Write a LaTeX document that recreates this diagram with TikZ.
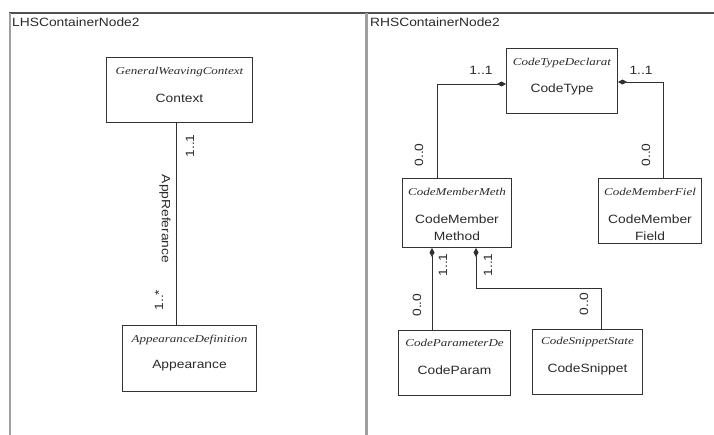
\documentclass[tikz,border=0pt]{standalone}
\usepackage{fontspec}
\setmainfont{Liberation Sans}[FakeStretch=1.15]
\newfontfamily\titlefont{Liberation Serif}[FakeStretch=1.24]
\usetikzlibrary{arrows.meta,calc}
\definecolor{txtc}{HTML}{2A2A2A}
\definecolor{boxc}{HTML}{333333}
\definecolor{linec}{HTML}{303030}
\definecolor{edgec}{HTML}{A0A0A0}
\definecolor{topc}{HTML}{505050}
\tikzset{
  box/.style={draw=boxc, line width=1pt, anchor=north west, inner sep=0pt, fill=white},
  ttl/.style={font=\titlefont\itshape\fontsize{10.5}{12}\selectfont, text=txtc, inner sep=0pt},
  nm/.style={font=\fontsize{12}{17}\selectfont, text=txtc, inner sep=0pt, align=center},
  mult/.style={font=\fontsize{12}{14}\selectfont, text=txtc, inner sep=0pt},
  conn/.style={draw=linec, line width=0.9pt},
  comp/.style={conn, -{Diamond[length=9pt,width=5pt]}},
  cont/.style={font=\fontsize{12}{14}\selectfont, text=txtc, inner sep=0pt, anchor=base west},
}
\begin{document}
\begin{tikzpicture}[x=1pt,y=-1pt]
\useasboundingbox[fill=white] (0,0) rectangle (714,435);
% containers
\draw[topc, line width=1.5pt] (9,13) -- (714,13);
\draw[edgec, line width=2.5pt] (10,13) -- (10,435);
\draw[edgec, line width=3.5pt] (366.5,13) -- (366.5,435);
\node[cont] (lhs) at (12,27) {LHSContainerNode2};
\node[cont] (rhs) at (370,27) {RHSContainerNode2};

% LHS boxes
\node[box, minimum width=146pt, minimum height=65pt] (ctx) at (106,57) {};
\node[ttl] (ctxT) at ($(ctx.north)+(0,15)$) {GeneralWeavingContext};
\node[nm] (ctxN) at ($(ctx.north)+(0,41)$) {Context};

\node[box, minimum width=134pt, minimum height=66pt] (app) at (122,325) {};
\node[ttl] (appT) at ($(app.north)+(0,15)$) {AppearanceDefinition};
\node[nm] (appN) at ($(app.north)+(0,41)$) {Appearance};

\coordinate (lx) at (176,0);
\draw[conn] (ctx.south -| lx) -- (app.north -| lx);
\node[mult, rotate=90] (m1) at (190,146) {1..1};
\node[mult, rotate=-90] (ar) at (165,219) {AppReferance};
\node[mult, rotate=90] (m2) at (159,300) {1..*};

% RHS boxes
\node[box, minimum width=111pt, minimum height=65pt] (ct) at (506,48) {};
\node[ttl] (ctT) at ($(ct.north)+(0,15)$) {CodeTypeDeclarat};
\node[nm] (ctN) at ($(ct.north)+(0,41)$) {CodeType};

\node[box, minimum width=109pt, minimum height=69pt] (cmm) at (402,178) {};
\node[ttl] (cmmT) at ($(cmm.north)+(0,14)$) {CodeMemberMeth};
\node[nm] (cmmN) at ($(cmm.north)+(0,49.5)$) {CodeMember\\Method};

\node[box, minimum width=103pt, minimum height=65pt] (cmf) at (598,178) {};
\node[ttl] (cmfT) at ($(cmf.north)+(0,14)$) {CodeMemberFiel};
\node[nm] (cmfN) at ($(cmf.north)+(0,49.5)$) {CodeMember\\Field};

\node[box, minimum width=112pt, minimum height=65pt] (cp) at (398,330) {};
\node[ttl] (cpT) at ($(cp.north)+(0,13)$) {CodeParameterDe};
\node[nm] (cpN) at ($(cp.north)+(0,40)$) {CodeParam};

\node[box, minimum width=110pt, minimum height=65pt] (cs) at (532,329) {};
\node[ttl] (csT) at ($(cs.north)+(0,13)$) {CodeSnippetState};
\node[nm] (csN) at ($(cs.north)+(0,40)$) {CodeSnippet};

% connectors
\coordinate (cx1) at (437,0);
\coordinate (cy1) at (0,84);
\coordinate (cx2) at (663,0);
\coordinate (cy2) at (0,82);
\draw[comp] (cmm.north -| cx1) |- (ct.west |- cy1);
\draw[comp] (cmf.north -| cx2) |- (ct.east |- cy2);

\coordinate (bx1) at (432,0);
\coordinate (bx2) at (476,0);
\coordinate (bx3) at (601,0);
\coordinate (by) at (0,288);
\draw[comp] (cp.north -| bx1) -- (cmm.south -| bx1);
\draw[comp] (cs.north -| bx3) |- (by -| bx2) -- (cmm.south -| bx2);

% multiplicities
\node[mult] (m3) at (481,70) {1..1};
\node[mult] (m4) at (641,70) {1..1};
\node[mult, rotate=90] (m5) at (419,155) {0..0};
\node[mult, rotate=90] (m6) at (646,155) {0..0};
\node[mult, rotate=90] (m7) at (443,265) {1..1};
\node[mult, rotate=90] (m8) at (488,265) {1..1};
\node[mult, rotate=90] (m9) at (417,305) {0..0};
\node[mult, rotate=90] (m10) at (584,304) {0..0};
\end{tikzpicture}
\end{document}
